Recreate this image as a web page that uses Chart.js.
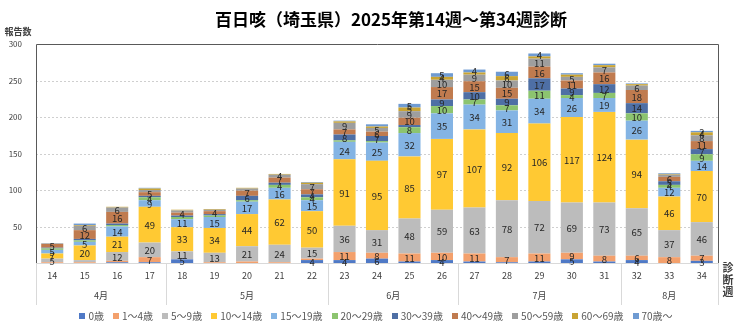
<!DOCTYPE html>
<html>
<head>
<meta charset="utf-8">
<script src="https://cdn.jsdelivr.net/npm/chart.js@4/dist/chart.umd.min.js"></script>
<style>
  html, body { margin: 0; padding: 0; background: #fff; }
  #chart { display: block; }
</style>
</head>
<body>
<canvas id="chart" width="740" height="326"></canvas>
<script>
const weeks = ['14','15','16','17','18','19','20','21','22','23','24','25','26','27','28','29','30','31','32','33','34'];
const months = [
    { label: '4月', from: 0, to: 3 },
    { label: '5月', from: 4, to: 8 },
    { label: '6月', from: 9, to: 12 },
    { label: '7月', from: 13, to: 17 },
    { label: '8月', from: 18, to: 20 }
];
const ageGroups = ['0歳','1～4歳','5～9歳','10～14歳','15～19歳','20～29歳','30～39歳','40～49歳','50～59歳','60～69歳','70歳～'];

const age0     = [0, 0, 1, 1, 5, 0, 0, 0, 4, 4, 6, 2, 4, 2, 1, 2, 5, 2, 4, 0, 3];
const age1to4  = [1, 1, 2, 7, 0, 1, 2, 1, 2, 11, 8, 11, 10, 11, 7, 11, 9, 8, 6, 8, 7];
const age5to9  = [5, 3, 12, 20, 11, 13, 21, 24, 15, 36, 31, 48, 59, 63, 78, 72, 69, 73, 65, 37, 46];
const age10to14 = [7, 20, 21, 49, 33, 34, 44, 62, 50, 91, 95, 85, 97, 107, 92, 106, 117, 124, 94, 46, 70];
const age15to19 = [5, 5, 14, 9, 11, 15, 17, 16, 15, 24, 25, 32, 35, 34, 31, 34, 26, 19, 26, 12, 14];
const age20s   = [2, 2, 2, 4, 3, 2, 2, 4, 4, 2, 2, 8, 10, 7, 7, 11, 4, 7, 10, 4, 9];
const age30s   = [1, 2, 2, 2, 2, 2, 6, 3, 4, 8, 7, 3, 9, 10, 9, 17, 9, 12, 14, 5, 7];
const age40s   = [5, 12, 16, 5, 4, 4, 7, 7, 7, 7, 6, 10, 17, 15, 15, 16, 11, 16, 18, 6, 11];
const age50s   = [1, 6, 6, 3, 3, 2, 3, 4, 7, 9, 5, 9, 10, 9, 10, 11, 5, 7, 6, 3, 8];
const age60s   = [0, 1, 1, 2, 1, 1, 1, 1, 2, 2, 2, 5, 4, 3, 6, 3, 3, 3, 2, 1, 4];
const age70up  = [0, 2, 0, 1, 0, 0, 0, 0, 1, 1, 3, 5, 5, 4, 6, 4, 2, 2, 1, 1, 2];

const yTicks = [0, 50, 100, 150, 200, 250, 300];

const seriesValues = [age0, age1to4, age5to9, age10to14, age15to19, age20s, age30s, age40s, age50s, age60s, age70up];
const colors = ['#4f79c6', '#f3a06c', '#bcbcbc', '#ffc933', '#84b4e4', '#8cc46f', '#4e6fa5', '#c07b4f', '#9e9e9e', '#c9a433', '#6f9bd2'];

const FONT = '"Noto Sans CJK JP", "Noto Sans", sans-serif';

// dotted horizontal gridlines behind the bars
const dottedGrid = {
    id: 'dottedGrid',
    beforeDatasetsDraw(chart) {
        const ctx = chart.ctx;
        const area = chart.chartArea;
        const y = chart.scales.y;
        ctx.save();
        ctx.strokeStyle = '#cfcfcf';
        ctx.lineWidth = 1;
        ctx.setLineDash([2, 2]);
        yTicks.forEach(v => {
            if (v === 0 || v === 300) return;
            const py = Math.round(y.getPixelForValue(v)) + 0.5;
            ctx.beginPath();
            ctx.moveTo(area.left, py);
            ctx.lineTo(area.right, py);
            ctx.stroke();
        });
        ctx.restore();
    }
};

// value labels inside the stacked segments
const segmentLabels = {
    id: 'segmentLabels',
    afterDatasetsDraw(chart) {
        const ctx = chart.ctx;
        ctx.save();
        ctx.font = '9.5px ' + FONT;
        ctx.fillStyle = '#262626';
        ctx.textAlign = 'center';
        ctx.textBaseline = 'middle';
        chart.data.datasets.forEach((ds, i) => {
            const meta = chart.getDatasetMeta(i);
            meta.data.forEach((bar, j) => {
                const v = ds.data[j];
                if (!v) return;
                if (v < 4 && j !== ds.data.length - 1) return;
                ctx.fillText(v, bar.x, (bar.y + bar.base) / 2 + 0.5);
            });
        });
        ctx.restore();
    }
};

// title, axis titles, month rows, separators and legend
const frame = {
    id: 'frame',
    afterDraw(chart) {
        const ctx = chart.ctx;
        const area = chart.chartArea;
        const x = chart.scales.x;
        const step = x.getPixelForValue(1) - x.getPixelForValue(0);
        ctx.save();

        ctx.fillStyle = '#000';
        ctx.font = 'bold 17px ' + FONT;
        ctx.textAlign = 'center';
        ctx.textBaseline = 'middle';
        ctx.fillText('百日咳（埼玉県）2025年第14週～第34週診断', 391, 20);

        ctx.font = 'bold 9px ' + FONT;
        ctx.fillStyle = '#404040';
        ctx.fillText('報告数', 18, 32);

        ctx.font = 'bold 11px ' + FONT;
        ['診', '断', '週'].forEach((c, k) => ctx.fillText(c, 728, 268 + k * 12));

        // plot frame
        ctx.strokeStyle = '#595959';
        ctx.lineWidth = 1;
        ctx.beginPath();
        ctx.moveTo(area.left + 0.5, area.bottom);
        ctx.lineTo(area.left + 0.5, area.top + 0.5);
        ctx.lineTo(area.right + 0.5, area.top + 0.5);
        ctx.lineTo(area.right + 0.5, area.bottom);
        ctx.stroke();

        // month separators
        ctx.strokeStyle = '#d9d9d9';
        ctx.beginPath();
        ctx.moveTo(area.left + 0.5, area.bottom);
        ctx.lineTo(area.left + 0.5, area.bottom + 42);
        ctx.moveTo(area.right + 0.5, area.bottom);
        ctx.lineTo(area.right + 0.5, area.bottom + 42);
        months.forEach((m, k) => {
            if (k === 0) return;
            const px = Math.round(x.getPixelForValue(m.from) - step / 2) + 0.5;
            ctx.moveTo(px, area.bottom);
            ctx.lineTo(px, area.bottom + 42);
        });
        ctx.stroke();

        ctx.font = '9px ' + FONT;
        ctx.fillStyle = '#404040';
        months.forEach(m => {
            const cx = (x.getPixelForValue(m.from) + x.getPixelForValue(m.to)) / 2;
            ctx.fillText(m.label, cx, area.bottom + 33);
        });

        // legend
        ctx.font = '10px ' + FONT;
        ctx.textAlign = 'left';
        const box = 6, gapText = 3, gapItem = 9;
        const widths = ageGroups.map(n => box + gapText + ctx.measureText(n).width);
        const total = widths.reduce((a, b) => a + b, 0) + gapItem * (ageGroups.length - 1);
        let lx = 376 - total / 2;
        const ly = 316;
        ageGroups.forEach((n, i) => {
            ctx.fillStyle = colors[i];
            ctx.fillRect(Math.round(lx), ly - 3, box, box);
            ctx.fillStyle = '#595959';
            ctx.fillText(n, lx + box + gapText, ly);
            lx += widths[i] + gapItem;
        });
        ctx.restore();
    }
};

new Chart(document.getElementById('chart'), {
    type: 'bar',
    data: {
        labels: weeks,
        datasets: ageGroups.map((name, i) => ({
            label: name,
            data: seriesValues[i],
            backgroundColor: colors[i],
            borderWidth: 0,
            barPercentage: 0.68,
            categoryPercentage: 1
        }))
    },
    options: {
        responsive: false,
        animation: false,
        layout: { padding: { top: 44, right: 22, left: 0, bottom: 21 } },
        scales: {
            x: {
                stacked: true,
                grid: { display: false, drawTicks: false },
                border: { color: '#d9d9d9' },
                ticks: { color: '#404040', font: { size: 9, family: FONT }, padding: 7, maxRotation: 0 },
                afterFit(scale) { scale.height = 42; }
            },
            y: {
                stacked: true,
                min: 0,
                max: 300,
                afterBuildTicks(scale) { scale.ticks = yTicks.map(v => ({ value: v })); },
                grid: { display: false },
                border: { display: false },
                ticks: {
                    color: '#404040',
                    font: { size: 8, family: FONT },
                    padding: 6,
                    callback: v => v === 0 ? '' : v
                },
                afterFit(scale) { scale.width = 36; }
            }
        },
        plugins: {
            title: { display: false },
            tooltip: { enabled: false },
            legend: { display: false }
        }
    },
    plugins: [dottedGrid, segmentLabels, frame]
});
</script>
</body>
</html>
